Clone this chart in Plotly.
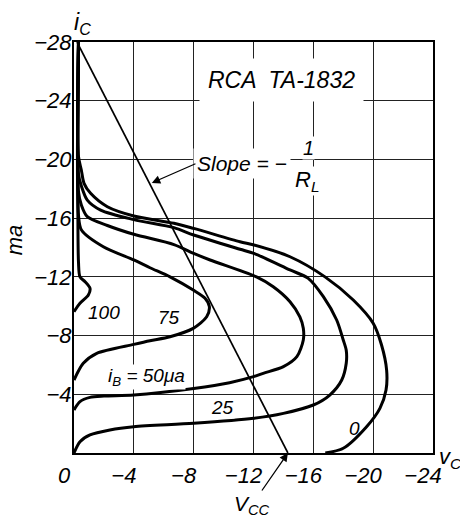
import plotly.graph_objects as go

# collector voltage / current (volts, ma)
ib0_v = [-0.3, -0.3, -0.49, -0.67, -1.11, -2.23, -4.0, -6.68, -8.0, -11.1, -12.03, -14.44, -16.78, -18.67, -20.0, -20.56, -20.9, -20.86, -20.45, -19.56, -18.0, -16.8]
ib0_i = [-28, -20.2, -19.28, -18.37, -17.69, -16.78, -16.15, -15.65, -15.3, -14.39, -14.17, -13.37, -12.0, -10.42, -8.84, -7.36, -5.65, -4.29, -3.04, -1.79, -0.32, 0]

ib25_v = [-0.3, -0.3, -0.49, -0.89, -1.78, -4.0, -6.68, -8.0, -11.1, -12.03, -14.44, -15.66, -16.67, -17.56, -18.0, -18.2, -18.2, -17.9, -17.1, -16.0, -14.0, -12.0, -8.0, -4.0, -2.4, -1.07, -0.4, 0]
ib25_i = [-28, -19.0, -18.2, -17.23, -16.55, -15.9, -15.35, -14.85, -13.88, -13.6, -12.47, -11.9, -10.65, -9.06, -7.7, -7.0, -6.11, -4.97, -3.95, -3.27, -2.7, -2.36, -2.02, -1.79, -1.57, -1.23, -0.77, 0]

ib50_v = [-0.3, -0.3, -0.49, -0.89, -2.23, -4.0, -6.68, -8.0, -9.1, -12.2, -13.32, -14.44, -15.1, -15.33, -15.33, -14.9, -14.0, -12.65, -12.0, -10.4, -8.0, -4.0, -2.0, -1.07, -0.4, 0]
ib50_i = [-28, -17.8, -16.9, -16.1, -15.5, -14.9, -14.2, -13.6, -13.15, -12.0, -11.33, -10.31, -9.28, -8.5, -7.7, -6.56, -5.88, -5.43, -5.2, -4.79, -4.4, -3.95, -3.88, -3.79, -3.5, -2.93]

ib75_v = [-0.3, -0.3, -0.5, -1.96, -4.0, -5.08, -6.42, -7.97, -8.76, -9.05, -8.87, -7.97, -6.42, -5.08, -4.0, -1.52, -0.62, 0]
ib75_i = [-28, -16.2, -15.19, -14.05, -13.15, -12.62, -12.0, -11.1, -10.54, -9.97, -9.28, -8.49, -7.92, -7.65, -7.4, -6.79, -6.11, -4.97]

ib100_v = [-0.3, -0.3, -0.4, -0.74, -1.07, -0.96, -0.4, 0]
ib100_i = [-28, -13.0, -12.0, -11.67, -11.22, -10.76, -10.2, -9.63]

# load line: from i_C = -28 ma at v_C ~ 0 down to V_CC
load_v = [-0.2, -14.3]
load_i = [-28, 0]

x_ticks = [0, -4, -8, -12, -16, -20, -24]
x_labels = ['0', '−4', '−8', '−12', '−16', '−20', '−24']
y_ticks = [-28, -24, -20, -16, -12, -8, -4]
y_labels = ['−28', '−24', '−20', '−16', '−12', '−8', '−4']

curves = [(ib0_v, ib0_i), (ib25_v, ib25_i), (ib50_v, ib50_i), (ib75_v, ib75_i), (ib100_v, ib100_i)]

font = 'Liberation Sans, Arial, sans-serif'

fig = go.Figure()
for cv, ci in curves:
    fig.add_trace(go.Scatter(x=cv, y=ci, mode='lines', line=dict(color='black', width=3, shape='spline', smoothing=0.8)))
fig.add_trace(go.Scatter(x=load_v, y=load_i, mode='lines', line=dict(color='black', width=1.7)))

def label(text, x, y, size=19, **kw):
    fig.add_annotation(x=x, y=y, text=text, showarrow=False,
                       font=dict(family=font, size=size, color='black', style='italic'), **kw)

label('100', -2.0, -9.54, bgcolor='white', borderpad=0)
label('75', -6.35, -9.2, bgcolor='white', borderpad=0)
label('i<sub>B</sub> = 50μa', -4.85, -5.2, bgcolor='white', borderpad=0)
label('25', -9.96, -3.07, bgcolor='white', borderpad=0)
label('0', -18.72, -1.7)
label('RCA  TA-1832', -13.87, -25.4, size=23, bgcolor='white', borderpad=8)
label('Slope = −', -7.95, -19.75, size=21, xanchor='left', bgcolor='white', borderpad=3)
label('1', -15.65, -20.8, size=20, bgcolor='white', borderpad=0)
label('R<sub>L</sub>', -15.6, -18.55, size=22, bgcolor='white', borderpad=0)
label('i<sub>C</sub>', 0, -28, size=23, xanchor='left', yanchor='bottom', xshift=-2, yshift=2)
label('v<sub>C</sub>', -24, 0, size=22, xanchor='left', yanchor='bottom', xshift=4, yshift=-21)
label('ma', -0.167, -14.5, size=22, xref='paper', xanchor='center', textangle=-90)

# arrows
fig.add_annotation(x=-5.2, y=-18.4, ax=-8.22, ay=-19.75, axref='x', ayref='y', text='',
                   showarrow=True, arrowhead=2, arrowsize=1.3, arrowwidth=1.3, arrowcolor='black')
fig.add_annotation(x=load_v[1], y=0, ax=-36, ay=52, text='V<sub>CC</sub>',
                   font=dict(family=font, size=21, color='black', style='italic'),
                   showarrow=True, arrowhead=2, arrowsize=1.3, arrowwidth=1.3, arrowcolor='black')

fig.update_xaxes(range=[0, -24], tickvals=x_ticks, ticktext=x_labels, showgrid=True, gridcolor='#222', gridwidth=1,
                 zeroline=False, showline=True, mirror=True, linecolor='black', linewidth=2, ticks='',
                 ticklabelshift=10, ticklabelstandoff=2,
                 tickfont=dict(family=font, size=22, color='black', style='italic'))
fig.update_yaxes(range=[0, -28], tickvals=y_ticks, ticktext=y_labels, showgrid=True, gridcolor='#222', gridwidth=1,
                 zeroline=False, showline=True, mirror=True, linecolor='black', linewidth=2, ticks='',
                 ticklabelstandoff=-4,
                 tickfont=dict(family=font, size=22, color='black', style='italic'))
fig.update_layout(width=460, height=519, margin=dict(l=74, r=27, t=42, b=66, autoexpand=False), showlegend=False,
                  plot_bgcolor='white', paper_bgcolor='white')

fig.write_html('out.html', config={'displayModeBar': False}, post_script="document.body.style.margin='0';")
